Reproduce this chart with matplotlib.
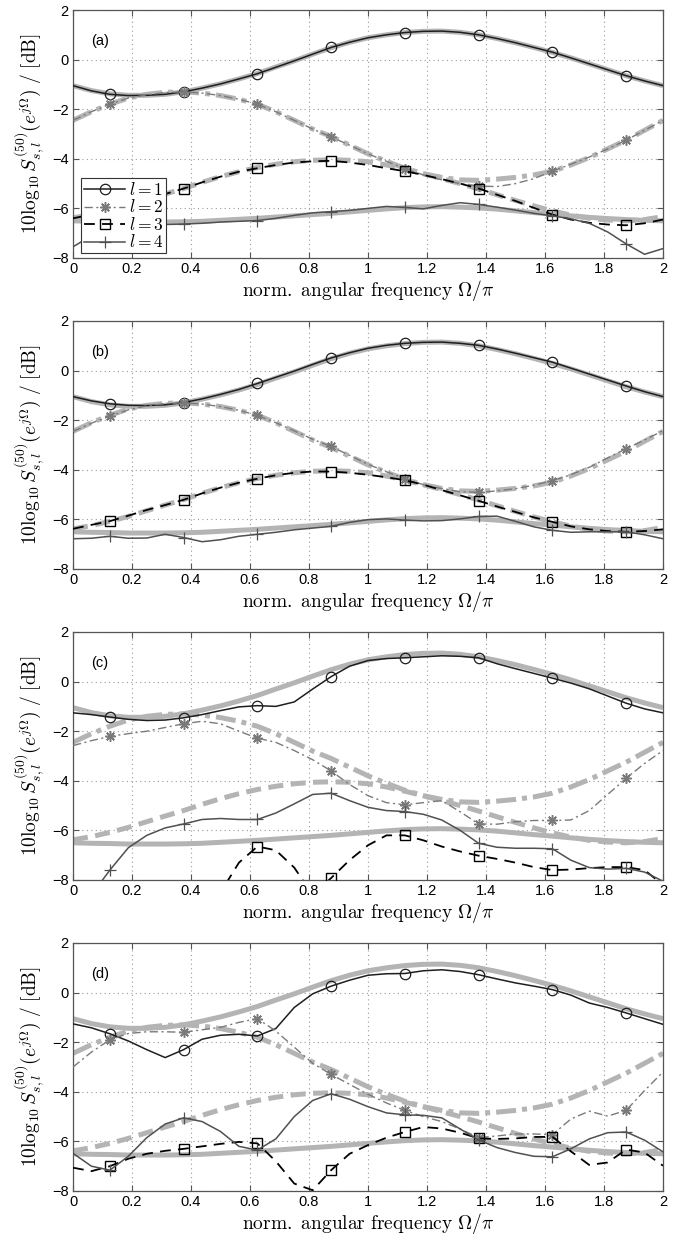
import numpy as np
import matplotlib
matplotlib.use("Agg")
import matplotlib.pyplot as plt

plt.rcParams['mathtext.fontset'] = 'cm'
plt.rcParams['font.family'] = ['Liberation Sans', 'DejaVu Sans']

# frequency grid (Omega/pi), 33 points
freq = [k / 16 for k in range(33)]
xticks = [0, 0.2, 0.4, 0.6, 0.8, 1, 1.2, 1.4, 1.6, 1.8, 2]
xticklabels = ['0', '0.2', '0.4', '0.6', '0.8', '1', '1.2', '1.4', '1.6', '1.8', '2']
yticks = [-8, -6, -4, -2, 0, 2]
panel_labels = ['(a)', '(b)', '(c)', '(d)']
legend_labels = ['$l = 1$', '$l = 2$', '$l = 3$', '$l = 4$']

# true (reference) spectra
ref_l1 = [-1.05, -1.25, -1.38, -1.44, -1.44, -1.40, -1.30, -1.15, -0.98, -0.78, -0.56, -0.30, -0.05,
          0.22, 0.48, 0.70, 0.88, 1.00, 1.09, 1.14, 1.15, 1.10, 1.00, 0.85, 0.68, 0.49, 0.29, 0.07,
          -0.17, -0.41, -0.65, -0.86, -1.05]
ref_l2 = [-2.45, -2.10, -1.80, -1.55, -1.40, -1.32, -1.30, -1.35, -1.45, -1.60, -1.80, -2.10, -2.45,
          -2.80, -3.10, -3.45, -3.80, -4.10, -4.38, -4.60, -4.75, -4.85, -4.87, -4.82, -4.75, -4.65,
          -4.50, -4.25, -3.95, -3.60, -3.25, -2.85, -2.45]
ref_l3 = [-6.38, -6.25, -6.08, -5.88, -5.65, -5.42, -5.20, -4.95, -4.72, -4.52, -4.35, -4.22, -4.12,
          -4.06, -4.04, -4.06, -4.12, -4.25, -4.42, -4.60, -4.80, -5.00, -5.22, -5.45, -5.68, -5.90,
          -6.10, -6.27, -6.40, -6.47, -6.50, -6.45, -6.33]
ref_l4 = [-6.50, -6.52, -6.53, -6.55, -6.55, -6.55, -6.54, -6.52, -6.48, -6.44, -6.40, -6.35, -6.30,
          -6.25, -6.20, -6.14, -6.08, -6.02, -5.97, -5.94, -5.93, -5.95, -5.98, -6.03, -6.10, -6.17,
          -6.23, -6.30, -6.36, -6.41, -6.45, -6.48, -6.50]

# estimates, panel (a)
a_l1 = [-1.05, -1.26, -1.40, -1.45, -1.44, -1.40, -1.30, -1.15, -0.98, -0.78, -0.57, -0.31, -0.05,
        0.22, 0.49, 0.70, 0.88, 1.00, 1.09, 1.14, 1.15, 1.10, 1.00, 0.85, 0.68, 0.49, 0.30, 0.07,
        -0.17, -0.41, -0.65, -0.86, -1.05]
a_l2 = [-2.45, -2.10, -1.80, -1.55, -1.42, -1.33, -1.30, -1.35, -1.45, -1.60, -1.80, -2.10, -2.45,
        -2.80, -3.12, -3.45, -3.80, -4.10, -4.40, -4.65, -4.85, -5.00, -5.10, -5.12, -5.00, -4.80,
        -4.50, -4.22, -3.93, -3.60, -3.25, -2.85, -2.45]
a_l3 = [-6.40, -6.25, -6.08, -5.88, -5.65, -5.42, -5.20, -4.95, -4.72, -4.52, -4.38, -4.25, -4.15,
        -4.10, -4.08, -4.15, -4.25, -4.38, -4.50, -4.65, -4.82, -5.00, -5.20, -5.45, -5.70, -5.98,
        -6.25, -6.45, -6.58, -6.65, -6.68, -6.60, -6.45]
a_l4 = [-7.55, -7.10, -6.80, -6.70, -6.68, -6.65, -6.63, -6.60, -6.55, -6.52, -6.49, -6.40, -6.28,
        -6.18, -6.13, -6.08, -6.00, -5.92, -5.96, -6.02, -5.88, -5.77, -5.84, -5.95, -6.07, -6.20,
        -6.30, -6.42, -6.60, -6.95, -7.43, -7.85, -7.62]

# estimates, panel (b)
b_l1 = [-1.05, -1.22, -1.34, -1.40, -1.41, -1.38, -1.29, -1.14, -0.96, -0.76, -0.52, -0.27, -0.02,
        0.25, 0.51, 0.72, 0.90, 1.02, 1.10, 1.14, 1.15, 1.10, 1.02, 0.87, 0.70, 0.52, 0.34, 0.10,
        -0.14, -0.38, -0.62, -0.85, -1.05]
b_l2 = [-2.45, -2.12, -1.84, -1.58, -1.42, -1.33, -1.30, -1.35, -1.45, -1.60, -1.81, -2.10, -2.43,
        -2.77, -3.06, -3.42, -3.78, -4.08, -4.36, -4.60, -4.76, -4.88, -4.91, -4.85, -4.76, -4.62,
        -4.44, -4.20, -3.90, -3.52, -3.15, -2.80, -2.42]
b_l3 = [-6.38, -6.22, -6.07, -5.85, -5.62, -5.42, -5.21, -4.95, -4.72, -4.52, -4.36, -4.22, -4.12,
        -4.07, -4.07, -4.12, -4.20, -4.30, -4.42, -4.60, -4.82, -5.03, -5.25, -5.48, -5.70, -5.92,
        -6.10, -6.28, -6.40, -6.47, -6.50, -6.47, -6.40]
b_l4 = [-6.78, -6.76, -6.68, -6.76, -6.75, -6.60, -6.73, -6.90, -6.82, -6.68, -6.60, -6.52, -6.42,
        -6.35, -6.28, -6.12, -6.01, -5.98, -6.03, -6.06, -6.05, -5.98, -5.88, -5.87, -6.08, -6.30,
        -6.44, -6.52, -6.50, -6.50, -6.50, -6.62, -6.78]

# estimates, panel (c)
c_l1 = [-1.26, -1.33, -1.43, -1.52, -1.57, -1.55, -1.46, -1.33, -1.17, -1.02, -0.97, -1.00, -0.82,
        -0.30, 0.20, 0.62, 0.85, 0.93, 0.96, 1.00, 1.04, 1.02, 0.96, 0.72, 0.52, 0.33, 0.14, -0.06,
        -0.29, -0.58, -0.87, -1.10, -1.26]
c_l2 = [-2.58, -2.38, -2.21, -2.10, -2.00, -1.85, -1.70, -1.60, -1.70, -2.00, -2.28, -2.45, -2.78,
        -3.15, -3.60, -4.15, -4.60, -4.88, -4.97, -4.88, -4.80, -5.25, -5.74, -5.75, -5.65, -5.60,
        -5.60, -5.58, -5.20, -4.55, -3.90, -3.30, -2.78]
c_l3 = [-11.0, -11.0, -11.0, -11.0, -11.0, -10.5, -10.0, -9.3, -8.5, -7.3, -6.65, -6.80, -7.50,
        -8.60, -7.92, -7.20, -6.60, -6.20, -6.20, -6.40, -6.65, -6.85, -7.02, -7.15, -7.30, -7.48,
        -7.60, -7.58, -7.52, -7.48, -7.48, -7.60, -8.20]
c_l4 = [-10.0, -8.60, -7.60, -6.70, -6.20, -5.90, -5.74, -5.56, -5.52, -5.56, -5.56, -5.30, -4.93,
        -4.55, -4.50, -4.80, -5.07, -5.20, -5.24, -5.35, -5.58, -6.00, -6.52, -6.68, -6.72, -6.72,
        -6.74, -7.20, -7.50, -7.56, -7.53, -7.68, -8.05]

# estimates, panel (d)
d_l1 = [-1.26, -1.42, -1.66, -1.95, -2.30, -2.62, -2.30, -1.88, -1.72, -1.68, -1.75, -1.45, -0.60,
        -0.05, 0.26, 0.50, 0.70, 0.76, 0.77, 0.88, 0.92, 0.85, 0.72, 0.55, 0.39, 0.26, 0.12, -0.10,
        -0.42, -0.60, -0.82, -1.05, -1.28]
d_l2 = [-3.00, -2.40, -1.90, -1.65, -1.58, -1.58, -1.60, -1.50, -1.40, -1.20, -1.05, -1.55, -2.20,
        -2.85, -3.30, -3.70, -4.10, -4.45, -4.75, -5.00, -5.20, -5.50, -5.85, -5.78, -5.70, -5.70,
        -5.73, -5.10, -4.78, -4.98, -4.75, -3.95, -3.20]
d_l3 = [-7.06, -7.20, -7.00, -6.70, -6.50, -6.38, -6.30, -6.20, -6.10, -6.02, -6.08, -6.80, -7.70,
        -7.97, -7.16, -6.50, -6.15, -5.85, -5.62, -5.42, -5.48, -5.65, -5.88, -5.90, -5.88, -5.82,
        -5.82, -6.40, -6.95, -6.85, -6.33, -6.45, -6.98]
d_l4 = [-6.48, -7.00, -7.16, -6.60, -5.85, -5.30, -5.05, -5.20, -5.60, -6.20, -6.35, -5.90, -5.00,
        -4.35, -4.08, -4.30, -4.60, -4.85, -4.93, -4.95, -5.05, -5.50, -5.94, -6.25, -6.45, -6.60,
        -6.62, -6.30, -5.90, -5.65, -5.62, -5.95, -6.42]

refs = [ref_l1, ref_l2, ref_l3, ref_l4]
estimates = [[a_l1, a_l2, a_l3, a_l4],
             [b_l1, b_l2, b_l3, b_l4],
             [c_l1, c_l2, c_l3, c_l4],
             [d_l1, d_l2, d_l3, d_l4]]

W, H = 681, 1235
fig = plt.figure(figsize=(W / 100, H / 100), dpi=100)

ref_color = '#b4b4b4'
ref_styles = ['-', (0, (4, 1.2, 1, 1.2)), (0, (3, 1.5)), '-']
est_styles = [
    dict(color='#1e1e1e', ls='-', lw=1.1, marker='o', ms=7.5, mfc='none', mec='#1e1e1e', mew=0.9),
    dict(color='#7a7a7a', ls=(0, (6, 2.5, 1.5, 2.5)), lw=1.0, marker=(8, 2, 0), ms=7.5,
         mec='#7a7a7a', mew=1.1),
    dict(color='#000000', ls=(0, (6, 4)), lw=1.3, marker='s', ms=6.5, mfc='none', mec='#000000', mew=1.0),
    dict(color='#505050', ls='-', lw=1.1, marker='+', ms=9, mec='#505050', mew=0.9),
]

ax_left = 73 / W
ax_w = (663 - 73) / W
ax_h = 248 / H
tops = [10, 321, 632, 943]

for p in range(4):
    bottom = 1 - (tops[p] + 248) / H
    ax = fig.add_axes([ax_left, bottom, ax_w, ax_h])
    for l in range(4):
        ax.plot(freq, refs[l], color=ref_color, ls=ref_styles[l], lw=3.6, zorder=2,
                solid_capstyle='butt')
    handles = []
    for l in range(4):
        h, = ax.plot(freq, estimates[p][l], markevery=(2, 4), zorder=3, **est_styles[l])
        handles.append(h)
    ax.set_xlim(0, 2)
    ax.set_ylim(-8, 2)
    ax.set_xticks(xticks)
    ax.set_xticklabels(xticklabels)
    ax.set_yticks(yticks)
    ax.grid(True, ls=(0, (1, 3)), color='#9a9a9a', lw=0.8)
    ax.tick_params(direction='in', top=True, right=True, labelsize=10.5, length=4,
                   color='#555555', pad=3)
    for s in ax.spines.values():
        s.set_color('#555555')
        s.set_linewidth(0.9)
    ax.set_xlabel(r'$\mathrm{norm.\ angular\ frequency}\ \Omega/\pi$', fontsize=14, labelpad=1)
    ax.set_ylabel(r'$10\log_{10} S_{s,l}^{(50)}(e^{j\Omega})\ /\ [\mathrm{dB}]$', fontsize=14,
                  labelpad=4)
    ax.text(0.03, 0.86, panel_labels[p], transform=ax.transAxes, fontsize=10.5)
    if p == 0:
        leg = ax.legend(handles, legend_labels, loc='lower left', bbox_to_anchor=(0.005, 0.0),
                        fontsize=12.5, frameon=True, fancybox=False, edgecolor='#333333',
                        framealpha=1, handlelength=2.4, handletextpad=0.2, borderpad=0.15,
                        labelspacing=0.03, borderaxespad=0.3, handleheight=0.5)
        leg.get_frame().set_linewidth(0.8)
        leg.set_zorder(5)

fig.savefig('out.png', dpi=100)
